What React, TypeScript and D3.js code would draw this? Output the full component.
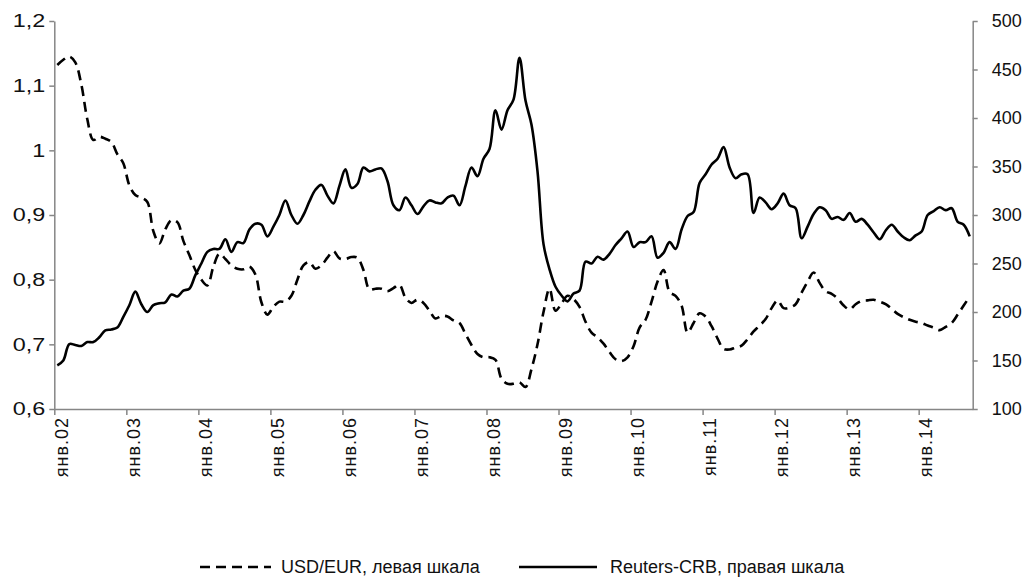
import React, { useRef, useEffect } from "react";
import * as d3 from "d3";

// USD/EUR, left scale, monthly from Jan 2002
const usdEur = [
  1.132, 1.14, 1.145, 1.136, 1.102, 1.048, 1.016, 1.021, 1.018, 1.013, 0.994, 0.98,
  0.946, 0.931, 0.927, 0.92, 0.875, 0.856, 0.878, 0.892, 0.889, 0.86, 0.838, 0.815,
  0.8, 0.791, 0.82, 0.84, 0.832, 0.822, 0.817, 0.816, 0.82, 0.808, 0.765, 0.746,
  0.758, 0.766, 0.766, 0.775, 0.8, 0.822, 0.827, 0.817, 0.822, 0.834, 0.844, 0.833,
  0.832, 0.835, 0.834, 0.815, 0.785, 0.786, 0.786, 0.782, 0.787, 0.792, 0.772, 0.764,
  0.769, 0.764, 0.752, 0.74, 0.744, 0.743, 0.737, 0.733, 0.716, 0.699, 0.685, 0.68,
  0.68, 0.676, 0.647, 0.639, 0.639, 0.641, 0.634, 0.662, 0.7, 0.75, 0.786, 0.752,
  0.763, 0.775, 0.77, 0.758, 0.735, 0.718, 0.711, 0.701, 0.688, 0.677, 0.674, 0.68,
  0.697, 0.726, 0.738, 0.766, 0.797, 0.815, 0.781, 0.775, 0.76, 0.718, 0.733, 0.748,
  0.743, 0.728, 0.709, 0.693, 0.692, 0.695, 0.698, 0.708, 0.72, 0.729, 0.739, 0.756,
  0.768, 0.756, 0.757, 0.762, 0.78, 0.797, 0.811, 0.795, 0.782, 0.778, 0.771, 0.76,
  0.754, 0.762, 0.767, 0.768, 0.769, 0.766, 0.762, 0.755, 0.747, 0.742, 0.738, 0.735,
  0.733, 0.729, 0.726, 0.722, 0.727, 0.733, 0.746, 0.76, 0.774,
];

// Reuters-CRB, right scale, monthly from Jan 2002
const crb = [
  145, 150, 167, 166, 165, 169, 169, 174, 181, 182, 184, 195,
  207, 221, 208, 200, 207, 209, 210, 218, 216, 222, 224, 238,
  250, 262, 265, 265, 275, 262, 272, 271, 285, 291, 290, 278,
  288, 300, 315, 300, 291, 300, 314, 326, 331, 320, 312, 330,
  347, 328, 332, 349, 345, 347, 348, 335, 310, 305, 318, 310,
  301, 309, 315, 313, 312, 318, 320, 310, 330, 349, 340, 358,
  368, 408, 388, 408, 419, 462, 418, 393, 345, 270, 244, 226,
  217, 211, 219, 222, 252, 250, 257, 254, 260, 269, 276, 283,
  267, 272, 272, 278, 256, 261, 272, 265, 285, 299, 303, 333,
  342, 352, 358, 370, 349, 338, 342, 342, 302, 318, 313, 306,
  312, 322, 310, 307, 276, 288, 301, 308, 305, 296, 298, 295,
  302, 293, 296, 290, 282, 275, 284, 290, 283, 277, 274, 279,
  283, 300, 304, 308, 305, 307, 293, 290, 278,
];

const yearLabels = [
  "янв.02", "янв.03", "янв.04", "янв.05", "янв.06", "янв.07", "янв.08",
  "янв.09", "янв.10", "янв.11", "янв.12", "янв.13", "янв.14",
];
const leftTicks = [0.6, 0.7, 0.8, 0.9, 1, 1.1, 1.2];
const rightTicks = [100, 150, 200, 250, 300, 350, 400, 450, 500];
const legendLabels = ["USD/EUR, левая шкала", "Reuters-CRB, правая шкала"];

const W = 1022;
const H = 580;
const margin = { top: 21, right: 49.3, bottom: 171, left: 54.3 };
const FONT = "'Liberation Sans', Arial, sans-serif";
const AXIS_COLOR = "#868686";

const App = () => {
  const svgRef = useRef(null);

  useEffect(() => {
    const svg = d3.select(svgRef.current);
    svg.selectAll("*").remove();

    const x = d3
      .scaleLinear()
      .domain([0, crb.length])
      .range([margin.left, W - margin.right]);
    const yL = d3.scaleLinear().domain([0.6, 1.2]).range([H - margin.bottom, margin.top]);
    const yR = d3.scaleLinear().domain([100, 500]).range([H - margin.bottom, margin.top]);

    const styleAxis = (g) => {
      g.select(".domain").attr("stroke", AXIS_COLOR).attr("stroke-width", 1.5);
      g.selectAll(".tick line").attr("stroke", AXIS_COLOR).attr("stroke-width", 1.5);
      g.selectAll("text")
        .attr("fill", "#111")
        .style("font-family", FONT)
        .style("font-size", "18px");
    };

    // left axis, its digits are drawn wider in the original
    svg
      .append("g")
      .attr("transform", `translate(${margin.left},0)`)
      .call(
        d3
          .axisLeft(yL)
          .tickValues(leftTicks)
          .tickSizeInner(5)
          .tickSizeOuter(0)
          .tickFormat((d) => String(d).replace(".", ","))
      )
      .call(styleAxis)
      .selectAll("text")
      .attr("x", 0)
      .attr("transform", "translate(-9,0) scale(1.3,1)");

    // right axis
    svg
      .append("g")
      .attr("transform", `translate(${W - margin.right},0)`)
      .call(
        d3
          .axisRight(yR)
          .tickValues(rightTicks)
          .tickSizeInner(5)
          .tickSizeOuter(0)
          .tickPadding(14)
      )
      .call(styleAxis);

    // bottom axis with january ticks
    const janTicks = yearLabels.map((_, i) => i * 12);
    const xAxis = svg
      .append("g")
      .attr("transform", `translate(0,${H - margin.bottom})`)
      .call(
        d3
          .axisBottom(x)
          .tickValues(janTicks)
          .tickSizeInner(6)
          .tickSizeOuter(0)
          .tickFormat((d, i) => yearLabels[i])
      )
      .call(styleAxis);
    xAxis
      .selectAll("text")
      .attr("transform", "rotate(-90)")
      .attr("x", -8)
      .attr("y", 7)
      .attr("dy", "0.35em")
      .style("letter-spacing", "1px")
      .style("text-anchor", "end");

    // series
    const usdLine = d3
      .line()
      .x((d, i) => x(i + 0.5))
      .y((d) => yL(d))
      .curve(d3.curveCatmullRom.alpha(0.5));
    const crbLine = d3
      .line()
      .x((d, i) => x(i + 0.5))
      .y((d) => yR(d))
      .curve(d3.curveCatmullRom.alpha(0.5));

    svg
      .append("path")
      .datum(usdEur)
      .attr("d", usdLine)
      .attr("fill", "none")
      .attr("stroke", "#000")
      .attr("stroke-width", 2.6)
      .attr("stroke-dasharray", "10,6");

    svg
      .append("path")
      .datum(crb)
      .attr("d", crbLine)
      .attr("fill", "none")
      .attr("stroke", "#000")
      .attr("stroke-width", 2.6);

    // legend
    const legendY = 567;
    const legendItems = [
      { label: legendLabels[0], x0: 200, x1: 271, tx: 281, dash: "10,6" },
      { label: legendLabels[1], x0: 519, x1: 597, tx: 610, dash: null },
    ];
    const legend = svg.append("g");
    legendItems.forEach((d) => {
      legend
        .append("line")
        .attr("x1", d.x0)
        .attr("x2", d.x1)
        .attr("y1", legendY)
        .attr("y2", legendY)
        .attr("stroke", "#000")
        .attr("stroke-width", 2.6)
        .attr("stroke-dasharray", d.dash);
      legend
        .append("text")
        .attr("x", d.tx)
        .attr("y", legendY)
        .attr("dy", "0.35em")
        .attr("fill", "#111")
        .style("font-family", FONT)
        .style("font-size", "18px")
        .text(d.label);
    });
  }, []);

  return (
    <svg
      ref={svgRef}
      width={W}
      height={H}
      style={{ position: "absolute", left: 0, top: 0, background: "#fff" }}
    ></svg>
  );
};

export default App;
